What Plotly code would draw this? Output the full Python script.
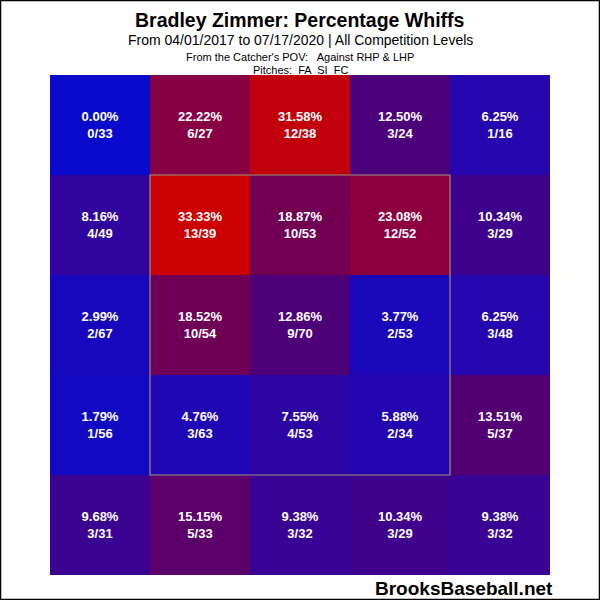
import plotly.graph_objects as go

# ---------------- data (rows top to bottom, catcher's POV) ----------------
cols = [0, 1, 2, 3, 4]
rows = [0, 1, 2, 3, 4]

pct_row1 = [0.00, 22.22, 31.58, 12.50, 6.25]
pct_row2 = [8.16, 33.33, 18.87, 23.08, 10.34]
pct_row3 = [2.99, 18.52, 12.86, 3.77, 6.25]
pct_row4 = [1.79, 4.76, 7.55, 5.88, 13.51]
pct_row5 = [9.68, 15.15, 9.38, 10.34, 9.38]

whiffs_row1 = [0, 6, 12, 3, 1]
whiffs_row2 = [4, 13, 10, 12, 3]
whiffs_row3 = [2, 10, 9, 2, 3]
whiffs_row4 = [1, 3, 4, 2, 5]
whiffs_row5 = [3, 5, 3, 3, 3]

pitches_row1 = [33, 27, 38, 24, 16]
pitches_row2 = [49, 39, 53, 52, 29]
pitches_row3 = [67, 54, 70, 53, 48]
pitches_row4 = [56, 63, 53, 34, 37]
pitches_row5 = [31, 33, 32, 29, 32]

pct = [pct_row1, pct_row2, pct_row3, pct_row4, pct_row5]
whiffs = [whiffs_row1, whiffs_row2, whiffs_row3, whiffs_row4, whiffs_row5]
pitches = [pitches_row1, pitches_row2, pitches_row3, pitches_row4, pitches_row5]

labels = [[f"<b>{p:.2f}%<br>{w}/{n}</b>" for p, w, n in zip(pr, wr, nr)]
          for pr, wr, nr in zip(pct, whiffs, pitches)]

# blue -> purple -> red, like the Brooks heat maps
scale = [
    [0.0, "rgb(10,10,204)"],
    [0.2, "rgb(40,6,172)"],
    [0.375, "rgb(76,0,122)"],
    [0.56, "rgb(112,0,84)"],
    [0.667, "rgb(136,0,68)"],
    [1.0, "rgb(204,0,0)"],
]

fig = go.Figure(go.Heatmap(
    z=pct, x=cols, y=rows,
    text=labels, texttemplate="%{text}",
    textfont=dict(family="Arial, Liberation Sans", size=13, color="white"),
    colorscale=scale, zmin=0, zmax=33.33,
    showscale=False, xgap=0, ygap=0, hoverinfo="skip",
))

# strike zone
fig.add_shape(type="rect", x0=0.5, x1=3.5, y0=0.5, y1=3.5,
              line=dict(color="rgb(150,150,120)", width=1.2))

# outer image border
fig.add_shape(type="rect", xref="paper", yref="paper",
              x0=-0.099, x1=1.099, y0=-0.049, y1=1.149,
              line=dict(color="black", width=1.5))

head = dict(xref="paper", yref="paper", x=0.5, yanchor="middle", showarrow=False)

fig.update_layout(
    width=600, height=600,
    margin=dict(l=50, r=50, t=75, b=25),
    paper_bgcolor="white", plot_bgcolor="white",
    font=dict(family="Arial, Liberation Sans", color="black"),
    xaxis=dict(visible=False, range=[-0.5, 4.5]),
    yaxis=dict(visible=False, range=[4.5, -0.5]),
    annotations=[
        dict(text="<b>Bradley Zimmer: Percentage Whiffs</b>", y=1.11,
             font=dict(size=19.5), **head),
        dict(text="From 04/01/2017 to 07/17/2020 | All Competition Levels", y=1.07,
             font=dict(size=14), **head),
        dict(text="From the Catcher's POV:   Against RHP & LHP", y=1.037,
             font=dict(size=11), **head),
        dict(text="Pitches:  FA  SI  FC", y=1.01,
             font=dict(size=11), **head),
        dict(text="<b>BrooksBaseball.net</b>", xref="paper", yref="paper",
             x=1.01, y=-0.026, xanchor="right", yanchor="middle", showarrow=False,
             font=dict(size=19)),
    ],
)

fig.write_html("out.html", config={"displayModeBar": False},
               post_script="document.body.style.margin='0';")
